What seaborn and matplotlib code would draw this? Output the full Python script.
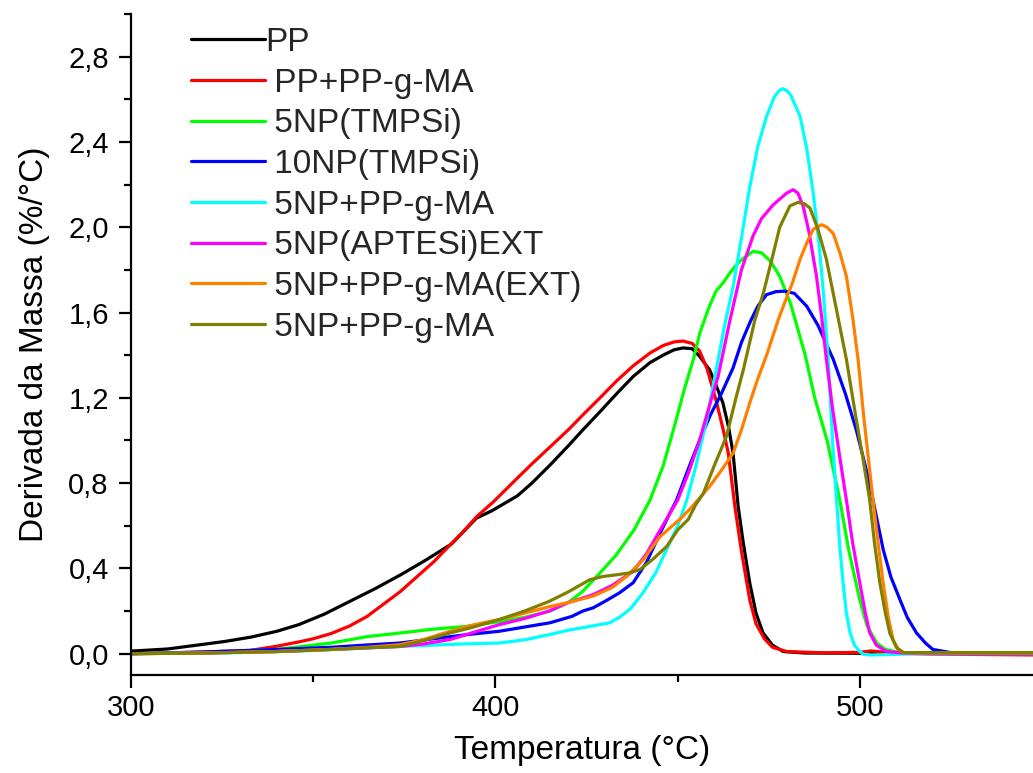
import matplotlib
matplotlib.use("Agg")
import matplotlib.pyplot as plt
import seaborn as sns
import pandas as pd
from matplotlib.ticker import MultipleLocator, FuncFormatter
from matplotlib.lines import Line2D

# DTG curves: temperature (°C) and mass derivative (%/°C)
pp_t = [300, 310, 319, 326, 333, 340, 346, 353, 360, 367, 374, 381, 388, 394.8, 399, 402, 406, 410, 415, 420, 424,
        428.7, 433.3, 437.8, 442.4, 446, 449, 451.5, 454, 456, 458.8, 460.5, 462.4, 464, 465.2, 466.6, 468, 469.8,
        471.5, 473.4, 476, 479, 485, 500, 548]
pp_y = [0.012, 0.022, 0.042, 0.058, 0.078, 0.105, 0.136, 0.185, 0.245, 0.305, 0.37, 0.44, 0.515, 0.636, 0.67, 0.70,
        0.74, 0.80, 0.885, 0.975, 1.05, 1.135, 1.22, 1.30, 1.365, 1.40, 1.425, 1.434, 1.43, 1.395, 1.33, 1.26, 1.177,
        1.06, 0.94, 0.69, 0.52, 0.33, 0.19, 0.098, 0.04, 0.01, 0.003, 0.002, 0.003]

ppma_t = [300, 310, 320, 332.6, 340, 346, 350, 355, 360, 364.8, 373.8, 383, 391, 395, 399.3, 405.8, 410, 415, 420,
          424, 428.7, 433.3, 437.8, 442.4, 446, 449, 451.5, 454, 456, 458, 460.7, 462.5, 463.9, 465.7, 467.5, 469.8,
          471.5, 473.8, 476, 480, 490, 500, 503, 506, 510, 520, 548]
ppma_y = [0.0, 0.003, 0.008, 0.015, 0.035, 0.055, 0.07, 0.095, 0.13, 0.175, 0.29, 0.43, 0.57, 0.645, 0.71, 0.82,
          0.89, 0.97, 1.05, 1.12, 1.20, 1.28, 1.35, 1.41, 1.445, 1.462, 1.466, 1.455, 1.42, 1.34, 1.177, 1.05, 0.94,
          0.69, 0.48, 0.25, 0.14, 0.07, 0.03, 0.01, 0.004, 0.006, 0.013, 0.008, 0.002, -0.002, -0.006]

np5_t = [300, 320, 340, 355, 364.8, 373.8, 383, 392, 401, 408, 415, 420, 423.8, 428.5, 433, 438, 442.4, 446, 449,
         452, 454.3, 456.1, 458.5, 460.5, 462.5, 464.5, 467, 470.7, 473, 475.5, 478, 481, 483.5, 485, 487.6, 491,
         494.5, 497, 500, 502, 504.6, 507, 511, 548]
np5_y = [0.0, 0.005, 0.02, 0.05, 0.08, 0.097, 0.115, 0.128, 0.15, 0.17, 0.2, 0.24, 0.29, 0.375, 0.46, 0.58, 0.72,
         0.88, 1.06, 1.25, 1.38, 1.505, 1.62, 1.70, 1.74, 1.79, 1.84, 1.887, 1.88, 1.84, 1.77, 1.64, 1.49, 1.40, 1.2,
         1.0, 0.72, 0.48, 0.25, 0.13, 0.05, 0.02, 0.005, 0.005]

np10_t = [300, 320, 340, 355, 364, 373.8, 383, 392, 401, 408, 415, 421, 424, 426.8, 430, 434, 437.8, 441.5, 445.2,
          447.9, 449.7, 453, 456, 459, 462, 465.2, 467.5, 470, 472, 474.4, 477, 479.4, 482, 485.4, 488.5, 492.7, 496,
          499, 501.5, 503.6, 506.4, 508.5, 511, 513, 515.5, 518, 520, 525, 548]
np10_y = [0.0, 0.008, 0.02, 0.03, 0.04, 0.05, 0.07, 0.089, 0.105, 0.125, 0.145, 0.175, 0.2, 0.215, 0.245, 0.285,
          0.333, 0.43, 0.566, 0.66, 0.72, 0.87, 1.0, 1.12, 1.22, 1.34, 1.46, 1.56, 1.63, 1.684, 1.698, 1.70, 1.69,
          1.63, 1.54, 1.38, 1.22, 1.05, 0.88, 0.72, 0.488, 0.36, 0.253, 0.17, 0.098, 0.05, 0.02, 0.005, 0.005]

npma_t = [300, 330, 350, 373.8, 390, 401, 408, 414.7, 420, 425, 431.4, 434, 437, 440.5, 444, 447, 450, 452.5, 455,
          458, 461.1, 463, 465.2, 467.5, 469.8, 472, 474.4, 476.5, 477.8, 478.8, 480, 481, 483.6, 485.5, 487.2, 488.8,
          490, 491.3, 492.5, 493.6, 494.5, 495.4, 496.3, 497.3, 498.5, 500, 501, 503, 508, 515, 548]
npma_y = [0.0, 0.005, 0.015, 0.034, 0.045, 0.05, 0.065, 0.089, 0.11, 0.125, 0.145, 0.17, 0.21, 0.286, 0.38, 0.49,
          0.60, 0.72, 0.88, 1.10, 1.38, 1.55, 1.72, 1.95, 2.19, 2.38, 2.52, 2.61, 2.64, 2.65, 2.64, 2.62, 2.52, 2.36,
          2.16, 1.92, 1.69, 1.38, 1.0, 0.72, 0.50, 0.33, 0.19, 0.098, 0.04, 0.01, -0.003, -0.006, -0.004, 0.0, 0.0]

aptes_t = [300, 320, 340, 355, 373.8, 380, 387.5, 394, 401, 408, 414.7, 420, 426.8, 432, 437.8, 441.5, 445.2, 450,
           453, 456, 458.5, 461.1, 464.3, 467.5, 470.7, 473, 476.2, 479.9, 481.7, 483, 484.4, 486, 488.1, 489.5,
           490.8, 492.5, 494.5, 496.3, 498, 500, 501.5, 502.7, 504.5, 507.3, 512, 548]
aptes_y = [0.0, 0.003, 0.01, 0.02, 0.034, 0.045, 0.066, 0.10, 0.136, 0.165, 0.2, 0.24, 0.277, 0.32, 0.386, 0.47,
           0.58, 0.72, 0.85, 1.0, 1.15, 1.30, 1.56, 1.80, 1.96, 2.04, 2.105, 2.16, 2.176, 2.16, 2.10, 1.98, 1.77,
           1.58, 1.38, 1.15, 0.92, 0.72, 0.52, 0.33, 0.19, 0.098, 0.04, 0.01, 0.003, 0.003]

npma_ext_t = [300, 320, 340, 355, 365, 373.8, 380, 387.5, 394, 401, 408, 414.7, 420, 426.8, 432, 436, 440.5, 445.2,
              450.6, 454, 458.8, 462, 465.2, 467.5, 469.8, 472, 474.4, 477.6, 479, 481.5, 483.6, 485.5, 487.2, 489.5,
              491, 492.7, 494.5, 496.3, 498, 499.5, 501, 502.3, 503.6, 505, 506.4, 507.8, 509.1, 510.5, 512, 548]
npma_ext_y = [0.0, 0.003, 0.01, 0.02, 0.03, 0.042, 0.065, 0.105, 0.135, 0.16, 0.19, 0.22, 0.24, 0.27, 0.31, 0.363,
              0.44, 0.55, 0.63, 0.69, 0.785, 0.86, 0.94, 1.05, 1.177, 1.29, 1.40, 1.566, 1.63, 1.74, 1.85, 1.93, 1.99,
              2.012, 2.00, 1.97, 1.88, 1.77, 1.58, 1.38, 1.12, 0.92, 0.72, 0.52, 0.33, 0.17, 0.066, 0.02, 0.005,
              0.005]

npma2_t = [300, 320, 340, 355, 365, 373.8, 380, 387.5, 394, 401, 408, 414.7, 420, 425.9, 429.5, 433.2, 436.5, 439.6,
           443, 447, 450, 452.9, 455, 457, 460, 463.4, 466, 468, 471.2, 473.5, 476, 478, 480.8, 483.1, 484.8, 486.3,
           488.5, 490.8, 493.5, 496.3, 498.5, 500.8, 502.7, 504, 505.5, 507, 508.2, 510, 511.9, 548]
npma2_y = [0.0, 0.003, 0.01, 0.02, 0.028, 0.034, 0.06, 0.097, 0.125, 0.16, 0.2, 0.245, 0.29, 0.347, 0.362, 0.37,
           0.378, 0.394, 0.44, 0.503, 0.58, 0.63, 0.70, 0.75, 0.88, 1.02, 1.20, 1.33, 1.566, 1.69, 1.86, 2.0, 2.10,
           2.117, 2.11, 2.09, 1.99, 1.85, 1.62, 1.38, 1.15, 0.92, 0.72, 0.52, 0.33, 0.19, 0.097, 0.03, 0.005, 0.005]

series_keys = ["pp", "ppma", "np5", "np10", "npma", "aptes", "npma_ext", "npma2"]
series_labels = ["PP", "PP+PP-g-MA", "5NP(TMPSi)", "10NP(TMPSi)", "5NP+PP-g-MA",
                 "5NP(APTESi)EXT", "5NP+PP-g-MA(EXT)", "5NP+PP-g-MA"]
series_colors = ["#000000", "#FF0000", "#00FF00", "#0000FF", "#00FFFF", "#FF00FF", "#FF8000", "#808000"]
series_t = [pp_t, ppma_t, np5_t, np10_t, npma_t, aptes_t, npma_ext_t, npma2_t]
series_y = [pp_y, ppma_y, np5_y, np10_y, npma_y, aptes_y, npma_ext_y, npma2_y]

frames = [pd.DataFrame({"T": t, "dm": y, "amostra": k}) for k, t, y in zip(series_keys, series_t, series_y)]
df = pd.concat(frames, ignore_index=True)

sns.set_theme(style="ticks")
plt.rcParams["font.family"] = ["Liberation Sans", "DejaVu Sans"]

fig = plt.figure(figsize=(10.33, 7.73), dpi=100)
ax = fig.add_axes([131 / 1033, 98 / 773, 902 / 1033, 661 / 773])

sns.lineplot(data=df, x="T", y="dm", hue="amostra", hue_order=series_keys,
             palette=dict(zip(series_keys, series_colors)), estimator=None, sort=False,
             linewidth=2.3, ax=ax, legend=False)
for ln in ax.get_lines():
    ln.set_solid_joinstyle("round")

ax.set_xlim(300, 547.5)
ax.set_ylim(-0.1, 3.0)
ax.xaxis.set_major_locator(MultipleLocator(100))
ax.xaxis.set_minor_locator(MultipleLocator(50))
ax.yaxis.set_major_locator(MultipleLocator(0.4))
ax.yaxis.set_minor_locator(MultipleLocator(0.2))
ax.yaxis.set_major_formatter(FuncFormatter(lambda v, p: f"{v:.1f}".replace(".", ",")))
ax.xaxis.set_major_formatter(FuncFormatter(lambda v, p: f"{v:.0f}"))

for side in ["top", "right"]:
    ax.spines[side].set_visible(False)
for side in ["left", "bottom"]:
    ax.spines[side].set_linewidth(1.6)
    ax.spines[side].set_color("black")

ax.tick_params(axis="both", which="major", direction="out", length=9, width=1.6, labelsize=21,
               color="black", labelcolor="black")
ax.tick_params(axis="x", which="major", pad=5)
ax.tick_params(axis="y", which="major", pad=7)
ax.tick_params(axis="both", which="minor", direction="out", length=5, width=1.6, color="black")

ax.set_xlabel("Temperatura (°C)", fontsize=24, color="black", labelpad=9)
ax.set_ylabel("Derivada da Massa (%/°C)", fontsize=24, color="black", labelpad=13)

handles = [Line2D([], [], color=c, linewidth=2.3) for c in series_colors]
labels = [series_labels[0]] + [" " + s for s in series_labels[1:]]
fig.legend(handles, labels, loc="upper left", bbox_to_anchor=(191 / 1033, 1 - 27 / 773),
           bbox_transform=fig.transFigure, frameon=False, fontsize=24, handlelength=2.22,
           handletextpad=0.0, labelspacing=0.29, borderpad=0, borderaxespad=0)

fig.savefig("out.png", dpi=100)
